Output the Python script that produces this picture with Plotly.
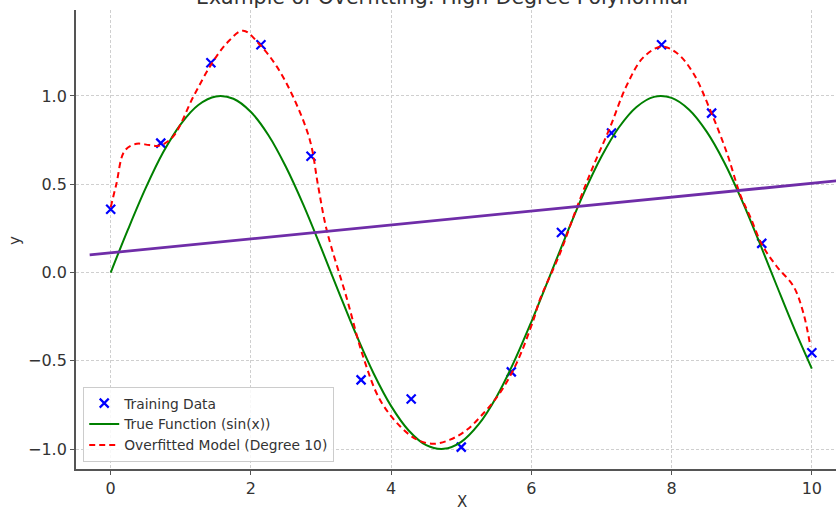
import plotly.graph_objects as go

# Training data
train_x = [0.0, 0.714, 1.429, 2.143, 2.857, 3.571, 4.286, 5.0, 5.714, 6.429, 7.143, 7.857, 8.571, 9.286, 10.0]
train_y = [0.358, 0.733, 1.188, 1.290, 0.659, -0.608, -0.716, -0.989, -0.563, 0.227, 0.790, 1.290, 0.903, 0.165, -0.455]

true_x = [0.0, 0.25, 0.5, 0.75, 1.0, 1.25, 1.5, 1.75, 2.0, 2.25, 2.5, 2.75, 3.0, 3.25, 3.5, 3.75, 4.0,
          4.25, 4.5, 4.75, 5.0, 5.25, 5.5, 5.75, 6.0, 6.25, 6.5, 6.75, 7.0, 7.25, 7.5, 7.75, 8.0,
          8.25, 8.5, 8.75, 9.0, 9.25, 9.5, 9.75, 10.0]
true_y = [0.0, 0.247, 0.479, 0.682, 0.841, 0.949, 0.997, 0.984, 0.909, 0.778, 0.598, 0.382, 0.141,
          -0.108, -0.351, -0.572, -0.757, -0.895, -0.978, -0.999, -0.959, -0.859, -0.706, -0.508,
          -0.279, -0.033, 0.215, 0.451, 0.657, 0.823, 0.938, 0.995, 0.989, 0.922, 0.798, 0.625,
          0.412, 0.173, -0.075, -0.318, -0.544]

# Overfitted degree-10 model
fit_x = [0.0, 0.08, 0.2, 0.37, 0.55, 0.70, 0.89, 1.18, 1.43, 1.655, 1.89, 2.13, 2.37, 2.60, 2.84,
         2.96, 3.08, 3.37, 3.60, 3.84, 4.13, 4.37, 4.60, 4.84, 5.08, 5.32, 5.55, 5.79, 6.03, 6.12,
         6.41, 6.65, 6.88, 7.12, 7.36, 7.60, 7.86, 8.07, 8.31, 8.55, 8.79, 8.98, 9.12, 9.29, 9.50,
         9.74, 9.88, 9.98]
fit_y = [0.37, 0.50, 0.69, 0.729, 0.722, 0.719, 0.77, 0.997, 1.176, 1.299, 1.370, 1.289, 1.166,
         0.997, 0.751, 0.487, 0.242, -0.150, -0.476, -0.721, -0.872, -0.947, -0.970, -0.947,
         -0.891, -0.796, -0.683, -0.513, -0.268, -0.155, 0.110, 0.370, 0.600, 0.820, 1.060,
         1.220, 1.280, 1.245, 1.129, 0.921, 0.676, 0.440, 0.317, 0.157, 0.034, -0.079, -0.230,
         -0.419]

# Straight purple line (linear trend)
trend_x = [-0.3, 10.6]
trend_y = [0.100, 0.529]

x_ticks = [0, 2, 4, 6, 8, 10]
y_ticks = [-1.0, -0.5, 0.0, 0.5, 1.0]
y_tick_text = ["\u22121.0", "\u22120.5", "0.0", "0.5", "1.0"]

FONT = "DejaVu Sans"
TXT = "#333333"
fig = go.Figure()

fig.add_trace(go.Scatter(x=train_x, y=train_y, mode="markers", name="Training Data",
                         marker=dict(symbol="x-thin", size=9, color="#0000ff",
                                     line=dict(color="#0000ff", width=2.2))))
fig.add_trace(go.Scatter(x=true_x, y=true_y, mode="lines", name="True Function (sin(x))",
                         line=dict(color="#008000", width=2, shape="spline")))
fig.add_trace(go.Scatter(x=fit_x, y=fit_y, mode="lines", name="Overfitted Model (Degree 10)",
                         line=dict(color="#ff0000", width=2, dash="6px,4px", shape="spline")))
fig.add_trace(go.Scatter(x=trend_x, y=trend_y, mode="lines", showlegend=False,
                         line=dict(color="#6f2da8", width=2.8)))

axis_common = dict(showline=True, linecolor="#555555", linewidth=1.8, mirror=False,
                   ticks="outside", ticklen=4, tickwidth=1.2, tickcolor="#555555",
                   showgrid=True, gridcolor="#cfcfcf", gridwidth=1, griddash="3px,2px",
                   zeroline=False, automargin=False,
                   tickfont=dict(family=FONT, size=16, color=TXT))

# plot area in window pixels: x 76..836, y 10..469
def px_x(p):
    return (p - 76) / 760

def px_y(p):
    return (469 - p) / 459

fig.update_layout(
    width=836, height=510,
    margin=dict(l=76, r=0, t=10, b=41),
    paper_bgcolor="white", plot_bgcolor="white",
    font=dict(family=FONT, color=TXT),
    xaxis=dict(range=[-0.495, 10.345], tickvals=x_ticks, ticktext=[str(v) for v in x_ticks],
               **axis_common),
    yaxis=dict(range=[-1.113, 1.487], tickvals=y_ticks, ticktext=y_tick_text,
               **axis_common),
    legend=dict(x=0.0095, y=0.016, xanchor="left", yanchor="bottom",
                bgcolor="rgba(255,255,255,0.85)", bordercolor="#cccccc", borderwidth=1,
                font=dict(family=FONT, size=13.8, color=TXT), tracegroupgap=0,
                itemwidth=30),
    showlegend=True,
    annotations=[
        dict(text="Example of Overfitting: High-Degree Polynomial",
             xref="paper", yref="paper", x=px_x(442), y=px_y(-2.6),
             xanchor="center", yanchor="middle", showarrow=False,
             font=dict(family=FONT, size=20.5, color=TXT)),
        dict(text="X", xref="paper", yref="paper", x=px_x(462), y=px_y(502),
             xanchor="center", yanchor="middle", showarrow=False,
             font=dict(family=FONT, size=15, color=TXT)),
        dict(text="y", xref="paper", yref="paper", x=px_x(15), y=px_y(241),
             xanchor="center", yanchor="middle", showarrow=False, textangle=-90,
             font=dict(family=FONT, size=15, color=TXT)),
    ],
)

fig.write_html("out.html", config={"displayModeBar": False},
               post_script="document.body.style.margin='0';document.body.style.overflow='hidden';")
